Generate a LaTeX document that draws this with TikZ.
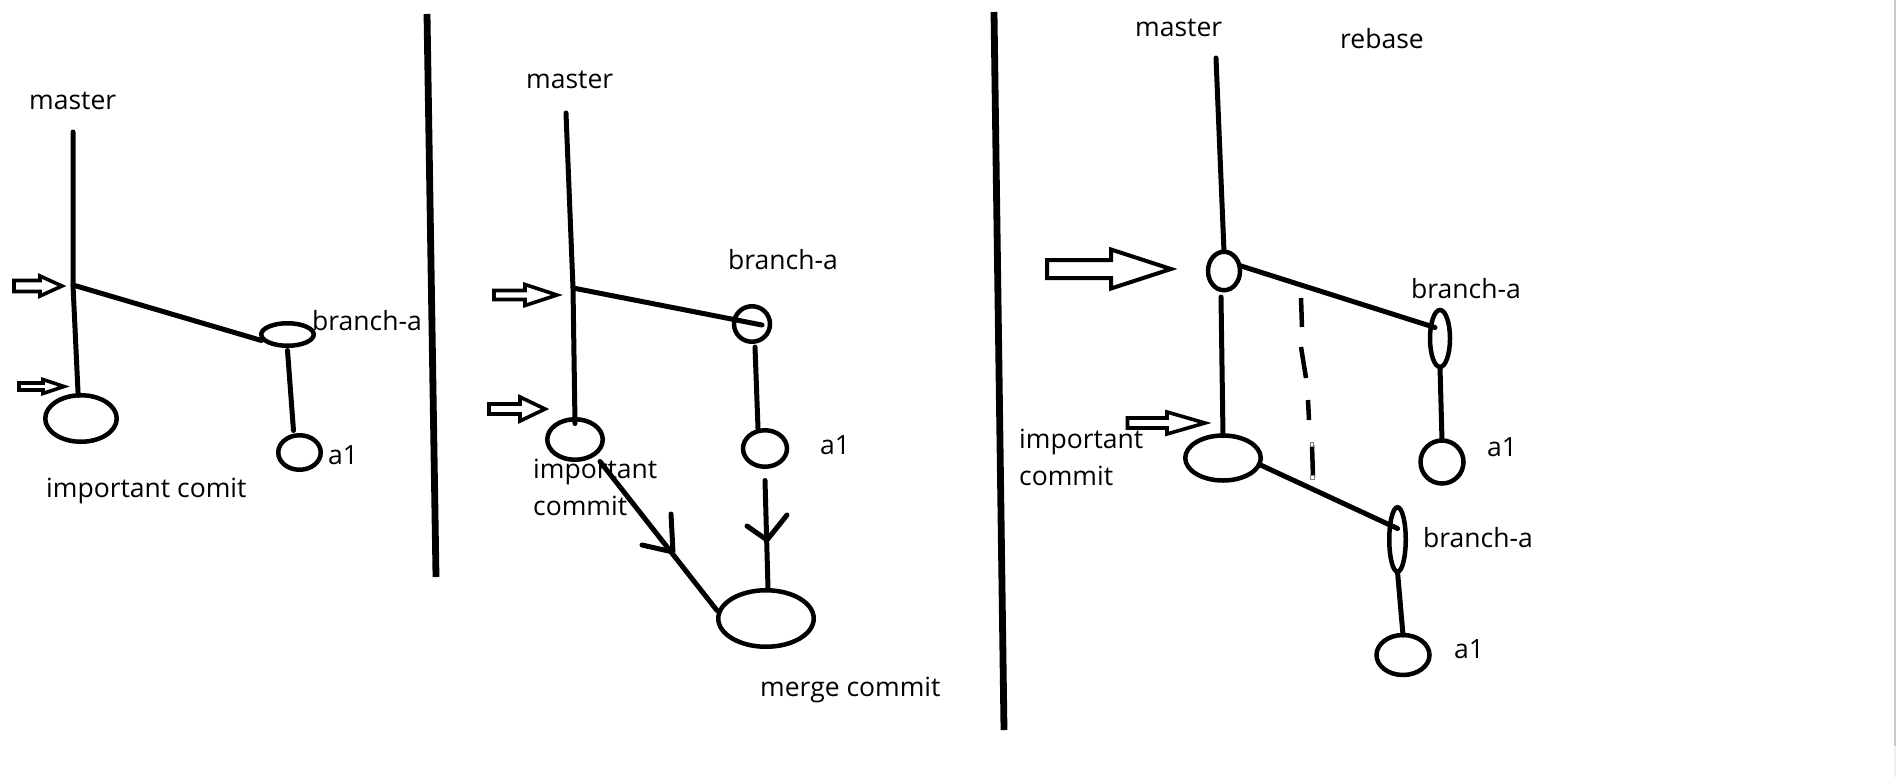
\documentclass[tikz,border=0pt]{standalone}
\usepackage{fontspec}
\setmainfont{Open Sans}
\usetikzlibrary{shapes.geometric}
\tikzset{
  lbl/.style={anchor=base west, inner sep=0pt, font=\fontsize{26.5}{37}\selectfont, text=black},
  commit/.style={ellipse, draw, line width=4.5pt, inner sep=0pt, outer sep=0pt},
  edge/.style={line width=5pt, line cap=round},
  divider/.style={line width=6.8pt},
  hollow/.style={draw, line width=3.6pt, fill=white, line join=miter},
  hollowbig/.style={hollow, line width=4pt},
  chev/.style={line width=5pt, line cap=round, line join=round},
  dashseg/.style={line width=4.5pt},
}
\newcommand\hollowarr[7][hollow]{\draw[#1] (#2,#5-#6) -- (#3,#5-#6) -- (#3,#5-#7) -- (#4,#5) -- (#3,#5+#7) -- (#3,#5+#6) -- (#2,#5+#6) -- cycle;}
\begin{document}
\begin{tikzpicture}[x=1pt,y=-1pt]
\useasboundingbox (0,0) rectangle (1896,777);
\fill[white] (0,0) rectangle (1896,777);
\fill[fill={rgb,255:red,200;green,200;blue,200}] (1894,0) rectangle (1896,746);
\fill[fill={rgb,255:red,238;green,238;blue,238}] (1894,746) rectangle (1896,777);

% ---------- panel 1 ----------
\node[commit, minimum width=71.5, minimum height=46.5] (ic1) at (81,418.5) {};
\node[commit, minimum width=52.5, minimum height=22.5] (ba1) at (287.5,334.5) {};
\node[commit, minimum width=42.5, minimum height=34.5] (a1a) at (299.5,452.5) {};
\coordinate (m1top) at (73,132);
\coordinate (j1) at (73,285);
\draw[edge] (m1top) -- (j1) -- (ic1.97);
\draw[edge] (j1) -- ([shift={(-26,6)}]ba1.center);
\draw[edge] ([shift={(0,16)}]ba1.center) -- ([shift={(-6,-22)}]a1a.center);
\node[lbl] (t1m) at (29,109) {master};
\node[lbl] (t1b) at (312,330) {branch-a};
\node[lbl] (t1a) at (328,464) {a1};
\node[lbl] (t1i) at (46,497) {important comit};
\hollowarr{14}{40}{62}{286}{5.5}{10}
\hollowarr{19}{43}{64}{386.5}{3.5}{7}
\coordinate (d1a) at (427,14);
\coordinate (d1b) at (436,577);
\draw[divider] (d1a) -- (d1b);

% ---------- panel 2 ----------
\node[commit, minimum width=55.5, minimum height=40.5] (ic2) at (575,439.5) {};
\node[commit, minimum width=36, minimum height=35.5] (ba2) at (752,324) {};
\node[commit, minimum width=44, minimum height=36.5] (a1b) at (765,448.5) {};
\node[commit, minimum width=95.5, minimum height=56.5] (merge) at (766,618.5) {};
\coordinate (m2top) at (566,113);
\coordinate (j2) at (573,288);
\draw[edge] (m2top) -- (j2) -- ([shift={(0,-16)}]ic2.center);
\draw[edge] (j2) -- ([shift={(10,1)}]ba2.center);
\draw[edge] ([shift={(3,23)}]ba2.center) -- ([shift={(-7,-20)}]a1b.center);
\draw[edge] ([shift={(25,22)}]ic2.center) -- ([shift={(-49,-8)}]merge.center);
\draw[edge] ([shift={(0,32)}]a1b.center) -- ([shift={(2,-30)}]merge.center);
\coordinate (ch1) at (673,552);
\draw[chev] (642,545) -- (ch1) -- (671,514);
\coordinate (ch2) at (767,540);
\draw[chev] (747,526) -- (ch2) -- (787,515);
\node[lbl] (t2m) at (526,88) {master};
\node[lbl] (t2b) at (728,269) {branch-a};
\node[lbl] (t2a) at (820,454) {a1};
\node[lbl] (t2i) at (533,478) {important};
\node[lbl] (t2c) at (533,515) {commit};
\node[lbl] (t2g) at (760,696) {merge commit};
\hollowarr{494}{525}{557}{295}{4.5}{10.5}
\hollowarr{489}{520}{545}{409}{5}{12}
\coordinate (d2a) at (994,12);
\coordinate (d2b) at (1004,730);
\draw[divider] (d2a) -- (d2b);

% ---------- panel 3 ----------
\node[commit, minimum width=32, minimum height=38.5] (c3) at (1224,271) {};
\node[commit, minimum width=20, minimum height=57] (ba3u) at (1440,338.5) {};
\node[commit, minimum width=43, minimum height=43] (a1u) at (1442,462) {};
\node[commit, minimum width=75.5, minimum height=45] (ic3) at (1223,458) {};
\node[commit, minimum width=16.5, minimum height=64.5] (ba3l) at (1397.5,539.5) {};
\node[commit, minimum width=53, minimum height=40] (a1l) at (1403,655) {};
\coordinate (m3top) at (1216,58);
\draw[edge] (m3top) -- (c3.north);
\draw[edge] ([shift={(-3,26)}]c3.center) -- (ic3.north);
\draw[edge] (c3.20) -- ([shift={(-5,-11)}]ba3u.center);
\draw[edge] (ba3u.south) -- (a1u.north);
\draw[edge] (ic3.-10) -- ([shift={(0,-11)}]ba3l.center);
\draw[edge] (ba3l.south) -- (a1l.north);
\draw[dashseg] (1301,298) -- (1302,327);
\draw[dashseg] (1301,347) -- (1306,378);
\draw[dashseg] (1308,400) -- (1309,420);
\draw[dashseg] (1312,445) -- (1313,477);
\draw[gray, line width=0.8pt, fill=white] (1310.3,442.6) rectangle (1313.6,445.9);
\draw[gray, line width=0.8pt, fill=white] (1310.8,475.6) rectangle (1314.1,478.9);
\node[lbl] (t3m) at (1135,36) {master};
\node[lbl] (t3r) at (1340,48) {rebase};
\node[lbl] (t3b) at (1411,298) {branch-a};
\node[lbl] (t3a) at (1487,456) {a1};
\node[lbl] (t3i) at (1019,448) {important};
\node[lbl] (t3c) at (1019,485) {commit};
\node[lbl] (t3b2) at (1423,547) {branch-a};
\node[lbl] (t3a2) at (1454,658) {a1};
\hollowarr[hollowbig]{1047}{1111}{1171}{269}{9}{19.5}
\hollowarr{1127.5}{1167}{1205}{423}{5}{11}
\end{tikzpicture}
\end{document}
